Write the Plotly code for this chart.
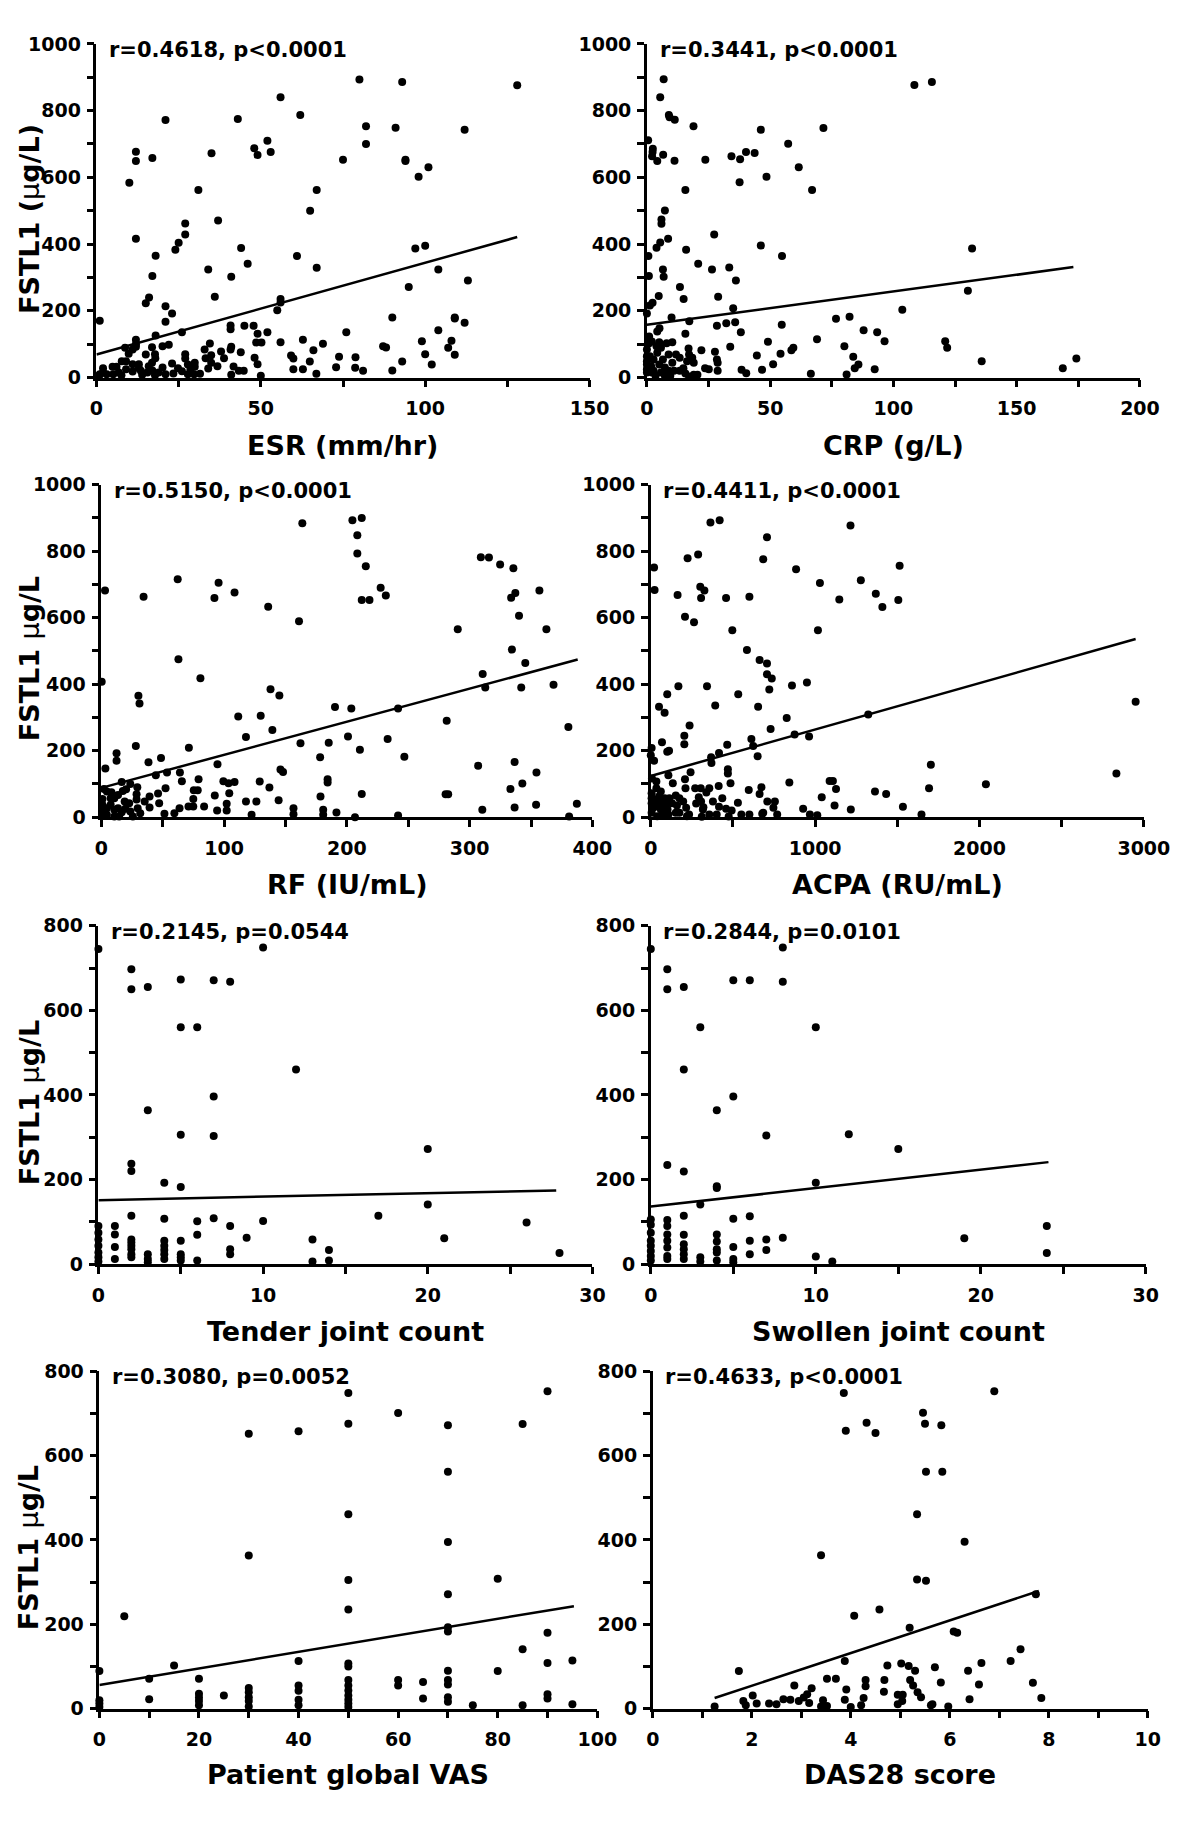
import plotly.graph_objects as go

W, H = 1200, 1824
FONT = "DejaVu Sans"

# ---------------- data ----------------
esr_x = [80,93,128,56,62,21,43,82,91,112,52,82,48,53,35,12,49,12,17,75,
         94,94,101,98,10,31,67,65,37,27,27,25,24,12,44,97,100,18,61,46,
         34,67,104,41,17,113,95,36,16,15,56,56,55,90,21,23,21,109,109,112,
         1,12,12,12,18,26,52,76,104,108,107,109,99,100,102,34.5,45,40.8,40.8,47.8,
         49,48.6,50.2,56,62.8,68.9,87.2,88.1,73.8,78.8,59.2,59.9,64.9,66,93,78.7,81.1,72.9,90,59.9,
         62.8,66.9,48.1,49,50,43.9,41,40.8,41.7,43.3,44.8,41,37.9,38.8,36.8,32.9,33.2,34.9,34.9,34,
         31.5,29.9,29.9,27,27,27.8,24.8,26,27.8,29.7,23,20.1,22,17.9,16.9,17.8,16.9,15.9,17,17.8,
         20.1,21,15,12.9,12.9,11,11,11,9.8,8.7,7.7,9,9,6.8,6.1,5.1,3.1,2,2,1,
         0.8,4.9,7.6,13.9,18.9,15.5,13.5,23.4,28.6]
esr_y = [893,886,876,840,787,772,775,753,749,743,710,700,687,676,672,677,667,649,658,653,
         653,649,630,602,584,562,562,500,471,462,429,404,383,416,388,387,395,365,364,341,
         324,329,324,302,304,291,271,242,240,223,235,225,202,180,214,192,167,180,177,164,
         170,113,100,92,126,136,136,136,142,110,89,68,109,70,39,102,155,156,145,155,
         131,105,105,106,113,101,94,90,62,61,66,57,48,82,48,29,20,31,21,25,
         25,11,59,40,5,76,92,84,33,20,20,8,78,58,34,84,58,67,44,27,
         11,44,32,70,57,39,28,19,10,10,42,94,98,58,91,70,44,34,21,7,
         30,10,69,40,28,40,18,84,71,89,49,49,25,15,32,10,10,28,15,10,
         5,32,7,8,15,15,20,12,25]
esr_fit_x = [0, 128]
esr_fit_y = [69, 421]

crp_x = [6.8,108.5,115.6,5.4,8.9,9.2,11.3,18.9,46.2,71.6,
         0.5,57.3,2.4,2.3,2.1,4.2,6.6,11.2,23.7,34.3,
         37.8,40.2,43.7,48.5,61.6,37.6,15.6,67,7.3,5.9,
         5.9,8.6,5.4,3.9,27.3,46.2,131.9,0.6,15.9,54.8,
         20.8,33.4,26.4,6.5,6.8,0.8,36.1,13.4,130.2,28.9,
         4.8,14.9,2.3,1.2,0,35,103.6,10,17.2,32.2,
         35.8,28.4,54.7,76.7,82.2,4.2,5.1,38.1,87.9,93.4,
         15.6,121,121.8,96.4,69,49.1,33.8,22.1,59.4,58.6,
         80.1,83.7,85.8,84.3,92.4,135.8,174.2,168.7,54.2,44.6,
         51.2,46.7,27.6,28.4,28.7,28.7,25.1,23.6,38.4,40.3,
         66.5,81,20.5,19,17.1,15.6,16.9,17.1,18.4,19,
         16.3,14.8,13.3,11,9.5,8,8.8,11.8,13.3,10.3,
         8,5,2,0.9,0.9,0,0,0,0,0,
         0,1.2,1.7,2.7,2.7,4.2,5,5.7,6.5,7.3,
         8.8,10.3,7.3,3.5,2,3.9,5.7]
crp_y = [894,877,886,840,787,780,773,753,743,748,
         711,701,686,676,663,649,668,650,653,663,
         654,676,673,602,630,585,562,562,501,474,
         461,416,405,389,429,396,387,364,383,364,
         341,330,324,324,302,304,291,271,260,242,
         244,235,224,216,192,208,203,180,169,163,
         166,155,158,176,182,138,148,136,142,136,
         131,109,89,109,115,107,92,82,89,82,
         94,62,39,28,25,49,57,28,71,66,
         40,23,77,54,44,20,25,28,23,13,
         11,9,8,8,3,12,87,69,59,44,
         49,28,20,20,5,10,20,69,59,106,
         103,106,108,123,103,84,64,49,39,25,
         15,64,34,20,54,74,39,15,54,30,
         69,44,5,5,15,94,89]
crp_fit_x = [0, 173]
crp_fit_y = [158, 331]

rf_x = [163.7,204.5,212.1,208.5,208.5,215.4,212.1,218.4,227.5,231.7,
        309.1,315.7,324.8,335.6,337.2,333.8,340.2,356.8,362.5,290.3,
        334.4,345.3,310.6,312.7,342,368.3,281.3,380.4,241.7,233.2,
        246.8,203.6,190.3,200.9,210.6,185.2,178.2,184.3,184.3,212.1,
        178.5,180.7,180.7,191.5,206.6,241.7,162.2,161,135.9,137.8,
        145,139.3,129.8,111.5,117.8,145.9,148,136.9,144.4,129,
        156.5,156.5,108.5,99.4,103.6,104.2,102.1,102.1,94.3,92.4,
        117.8,126.3,122.4,94.6,92.1,95.5,108.5,62.2,62.8,80.7,
        71.3,79.2,75.3,78.5,74.9,74.9,83.7,71,65.6,64,
        63.7,59.5,51.4,52.3,53.5,48.6,47.1,46.2,44.4,38.4,
        39.3,39.3,35.3,30.2,31.1,34.4,28.1,29.3,28.7,28.7,
        29.6,31.7,23.6,20.2,16.6,12.4,12.4,3,0.3,3.3,
        2.1,4.5,8.2,10.6,13.6,17.5,0.9,0.9,0.9,0.9,
        4.5,7.6,10.6,13.6,16.6,14.5,19.6,22.7,23.6,25.7,
        19,10.6,4.5,7.6,310.3,336.6,336.6,333.2,342.9,354.1,
        354.4,306.9,381,387.3,280.4,282.5]
rf_y = [884,893,900,848,793,755,653,653,690,667,
        782,781,760,749,674,660,606,682,565,565,
        504,464,431,390,390,398,290,271,327,235,
        182,327,331,243,203,224,180,114,104,70,
        62,22,7,14,0,5,222,589,633,385,
        366,262,305,303,241,143,136,89,51,107,
        27,9,106,108,102,72,40,20,20,65,
        47,47,7,159,659,705,676,716,475,418,
        209,114,81,81,55,32,32,32,108,134,
        27,12,10,87,134,178,42,71,126,165,
        62,29,47,365,342,663,214,90,69,53,
        27,12,100,84,106,192,170,682,407,146,
        85,77,75,57,67,79,55,37,22,9,
        27,37,22,27,15,2,25,42,17,2,
        47,2,7,57,22,29,166,85,101,37,
        134,155,2,40,69,69]
rf_fit_x = [0, 388]
rf_fit_y = [88, 474]

acpa_x = [363,419,1215,707,20,288,224,684,884,1514,
          1278,1029,23,301,326,306,163,458,600,1147,
          1369,1409,1506,208,263,496,1017,585,662,707,
          707,736,721,859,950,168,342,100,532,50,
          84,392,653,2950,1323,827,729,236,204,204,
          68,875,963,612,623,465,111,100,415,367,
          650,5,0,20,2833,1704,1693,2039,469,469,
          369,242,107,208,843,1088,1108,1127,1118,1040,
          1364,1432,1534,1217,927,1647,709,755,746,769,
          678,673,662,596,530,551,600,492,485,413,
          415,458,474,356,356,338,304,270,306,292,
          320,310,276,233,197,211,152,174,159,134,
          113,84,107,73,57,50,34,34,7,16,
          5,5,5,5,39,61,95,129,174,215,
          39,73,27,61,84,102,152,220,317,378,
          435,401,684,968,1013]
acpa_y = [886,893,877,842,751,790,779,776,746,756,
          713,704,683,693,682,659,668,659,663,655,
          672,632,653,603,586,562,562,503,473,462,
          430,417,384,396,405,394,394,370,370,332,
          314,336,332,347,309,298,265,276,245,219,
          225,249,243,235,214,218,200,197,193,180,
          183,208,186,170,131,158,87,99,144,131,
          163,135,126,114,104,109,109,85,35,60,
          77,70,31,23,25,8,47,47,28,8,
          10,90,70,82,43,8,8,20,102,94,
          31,25,2,8,87,74,87,87,47,60,
          30,1,41,8,47,87,65,57,35,102,
          57,28,8,8,47,62,87,107,116,28,
          42,57,72,13,3,23,42,42,13,28,
          36,38,52,77,57,23,13,3,23,47,
          57,8,13,8,6]
acpa_fit_x = [0, 2950]
acpa_fit_y = [124, 536]

tjc_x = [0,2,2,3,5,7,8,10,5,6,12,7,3,5,7,2,2,4,5,20,
         20,2,4,6,7,8,10,17,26,21,9,13,14,14,13,28,0,0,0,0,
         0,0,0,1,1,1,1,2,2,2,2,2,2,3,3,3,4,4,4,4,
         4,5,5,5,5,6,6,8,8]
tjc_y = [745,697,650,655,673,671,668,749,560,560,460,396,364,306,303,237,220,192,182,272,
         141,114,107,101,108,90,102,114,98,61,62,58,33,8,6,26,90,74,58,43,
         27,16,6,90,70,40,12,58,51,43,35,23,16,23,12,4,55,43,33,23,
         12,55,23,16,8,69,8,35,23]
tjc_fit_x = [0, 27.8]
tjc_fit_y = [151, 174]

sjc_x = [0,8,1,1,2,5,6,8,3,10,2,5,4,7,12,15,1,2,4,4,
         10,3,0,0,1,1,2,6,5,24,19,8,7,6,7,6,5,5,5,10,
         11,24,4,4,4,4,4,3,3,2,2,2,2,2,1,1,1,1,1,0,
         0,0,0,0,0]
sjc_y = [745,749,697,650,655,671,671,668,560,560,460,396,364,304,307,272,234,219,184,180,
         192,141,105,93,104,90,114,113,107,90,61,62,58,55,33,23,40,12,4,18,
         6,26,70,53,35,27,8,16,6,69,47,35,23,12,70,55,39,19,12,74,
         55,43,31,19,8]
sjc_fit_x = [0, 24.1]
sjc_fit_y = [136, 241]

vas_x = [50,50,60,40,30,70,85,90,70,50,70,30,50,80,70,50,5,70,70,90,
         85,40,90,95,15,50,50,0,10,20,80,70,70,70,60,60,65,50,50,50,
         50,50,50,50,40,40,40,40,30,30,30,30,30,25,20,20,20,20,10,0,
         0,0,65,70,70,75,85,90,90,95]
vas_y = [749,676,701,658,652,672,675,753,562,461,395,363,305,308,271,235,219,193,183,180,
         141,113,108,114,102,107,100,89,71,71,89,90,68,57,68,55,63,68,55,43,
         31,21,12,4,55,42,21,8,49,39,27,18,5,31,35,26,18,8,22,20,
         12,4,24,27,16,8,8,34,24,10]
vas_fit_x = [0, 95.3]
vas_fit_y = [56, 243]

das_x = [3.86,6.90,5.46,5.50,5.83,4.32,3.90,4.50,5.52,5.85,
         5.34,6.30,3.40,5.34,5.52,7.74,4.58,4.07,5.19,6.08,
         6.15,7.43,7.23,6.64,5.02,3.88,5.17,4.74,5.70,5.30,
         1.74,6.37,3.52,3.70,4.30,4.68,5.20,5.82,6.59,7.68,
         2.86,3.21,4.30,5.26,3.91,4.67,5.35,5.42,4.95,5.05,
         5.04,4.95,7.85,6.40,4.26,2.02,3.12,3.05,2.95,3.16,
         2.64,2.78,1.83,3.88,3.44,2.10,1.88,2.35,2.50,1.25,
         3.40,3.52,4.00,4.21,5.62,5.65,5.97]
das_y = [749,753,702,676,672,678,659,654,562,562,
         461,396,364,306,303,271,235,220,192,183,
         180,141,113,108,107,113,101,102,98,90,
         89,90,71,71,68,68,68,62,57,61,
         55,48,53,55,45,40,39,27,33,33,
         18,10,25,22,25,31,34,26,18,13,
         22,21,18,21,20,12,8,12,10,5,
         5,6,4,8,8,10,5]
das_fit_x = [1.25, 7.8]
das_fit_y = [25, 279]

x_titles = ["ESR (mm/hr)", "CRP (g/L)", "RF (IU/mL)", "ACPA (RU/mL)",
            "Tender joint count", "Swollen joint count", "Patient global VAS", "DAS28 score"]
stats = ["r=0.4618, p&lt;0.0001", "r=0.3441, p&lt;0.0001", "r=0.5150, p&lt;0.0001",
         "r=0.4411, p&lt;0.0001", "r=0.2145, p=0.0544", "r=0.2844, p=0.0101",
         "r=0.3080, p=0.0052", "r=0.4633, p&lt;0.0001"]
mu = "<span style='font-weight:normal'>μ</span>"
y_titles = ["FSTL1 (" + mu + "g/L)", None, "FSTL1 " + mu + "g/L", None,
            "FSTL1 " + mu + "g/L", None, "FSTL1 " + mu + "g/L", None]

# ---------------- layout geometry (pixels) ----------------
series = [(esr_x, esr_y, esr_fit_x, esr_fit_y), (crp_x, crp_y, crp_fit_x, crp_fit_y),
          (rf_x, rf_y, rf_fit_x, rf_fit_y), (acpa_x, acpa_y, acpa_fit_x, acpa_fit_y),
          (tjc_x, tjc_y, tjc_fit_x, tjc_fit_y), (sjc_x, sjc_y, sjc_fit_x, sjc_fit_y),
          (vas_x, vas_y, vas_fit_x, vas_fit_y), (das_x, das_y, das_fit_x, das_fit_y)]
x_ranges = [(150, 50, 25), (200, 50, 25), (400, 100, 50), (3000, 1000, 500),
            (30, 10, 5), (30, 10, 5), (100, 20, 10), (10, 2, 1)]
y_max = [1000, 1000, 1000, 1000, 800, 800, 800, 800]
x_px = [(92, 599), (658, 1165), (97, 602), (662, 1169),
        (94, 602), (662, 1171), (95, 607), (664, 1173)]
rows_px = [(33.3, 371), (479.5, 816), (926, 1268.3), (1377, 1718.3)]
xtitle_y = [440, 884, 1337, 1785]

def fx(p):
    return p / W

def fy(p):
    return 1 - p / H

fig = go.Figure()
annotations = []
tickfont = dict(family=FONT, size=19, color="black", weight="bold")

for i in range(8):
    sx, sy, lx, ly = series[i]
    n = i + 1
    xa = "x" if n == 1 else f"x{n}"
    ya = "y" if n == 1 else f"y{n}"
    fig.add_trace(go.Scatter(x=sx, y=sy, mode="markers", xaxis=xa, yaxis=ya,
                             marker=dict(size=8, color="black"), cliponaxis=False,
                             showlegend=False, hoverinfo="skip"))
    fig.add_trace(go.Scatter(x=lx, y=ly, mode="lines", xaxis=xa, yaxis=ya,
                             line=dict(color="black", width=2.5), cliponaxis=False,
                             showlegend=False, hoverinfo="skip"))
    row = i // 2
    top, bot = rows_px[row]
    x0, x1 = x_px[i]
    xmax, xd, xm = x_ranges[i]
    common = dict(showline=True, linecolor="black", linewidth=2.5, ticks="outside",
                  ticklen=7, tickwidth=2.5, tickcolor="black", showgrid=False,
                  zeroline=False, tickfont=tickfont, fixedrange=True)
    fig.layout[("xaxis" if n == 1 else f"xaxis{n}")] = dict(
        domain=[fx(x0), fx(x1)], anchor=ya, range=[0, xmax], dtick=xd, tick0=0,
        minor=dict(dtick=xm, tick0=0, ticks="outside", ticklen=7, tickwidth=2.5,
                   tickcolor="black", showgrid=False),
        ticklabelstandoff=5, **common)
    fig.layout[("yaxis" if n == 1 else f"yaxis{n}")] = dict(
        domain=[fy(bot), fy(top)], anchor=xa, range=[0, y_max[i]], dtick=200, tick0=0,
        minor=dict(dtick=100, tick0=0, ticks="outside", ticklen=7, tickwidth=2.5,
                   tickcolor="black", showgrid=False),
        ticklabelstandoff=2, **common)
    annotations.append(dict(text=stats[i], x=fx(x0 + 11), y=fy(top + 6), xref="paper",
                            yref="paper", xanchor="left", yanchor="middle", showarrow=False,
                            font=dict(family=FONT, size=21, color="black", weight="bold")))
    annotations.append(dict(text=x_titles[i], x=fx((x0 + x1) / 2), y=fy(xtitle_y[row]),
                            xref="paper", yref="paper", xanchor="center", yanchor="middle",
                            showarrow=False,
                            font=dict(family=FONT, size=27, color="black", weight="bold")))
    if y_titles[i]:
        annotations.append(dict(text=y_titles[i], x=fx(23), y=fy((top + bot) / 2 + 8),
                                xref="paper", yref="paper", xanchor="center",
                                yanchor="middle", showarrow=False, textangle=-90,
                                font=dict(family=FONT, size=27, color="black",
                                          weight="bold")))

fig.update_layout(width=W, height=H, autosize=False,
                  margin=dict(l=0, r=0, t=0, b=0, pad=0),
                  font=dict(family=FONT, size=19, color="black", weight="bold"),
                  paper_bgcolor="white", plot_bgcolor="white",
                  annotations=annotations)
fig.update_xaxes(tickfont=tickfont)
fig.update_yaxes(tickfont=tickfont)

fig.write_html("out.html", config={"displayModeBar": False},
               post_script="document.body.style.margin='0';document.body.style.overflow='hidden';")
